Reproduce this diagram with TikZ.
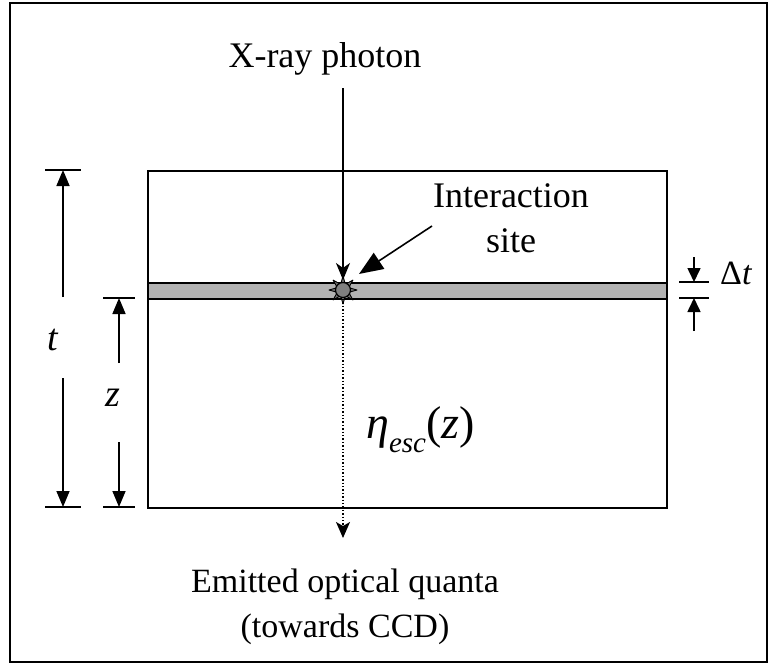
\documentclass[tikz,border=0pt]{standalone}
\usepackage{fontspec}
\setmainfont{Liberation Serif}
\usetikzlibrary{arrows.meta,calc}
\begin{document}
\begin{tikzpicture}[x=1pt,y=-1pt,
  lbl/.style={inner sep=0pt, align=center, anchor=base},
  dimtip/.style={-{Triangle[length=16pt,width=13pt]}},
  tick/.style={line width=1.6pt},
  dimline/.style={line width=1.6pt},
]
\useasboundingbox (0,0) rectangle (769,664);
\draw[line width=2.2pt] (10,3) rectangle (767,662);
% main slab
\node[draw, line width=1.7pt, minimum width=519pt, minimum height=337pt, inner sep=0pt, anchor=north west] (slab) at (147,170) {};
\node[draw, line width=1.7pt, fill=black!30, minimum width=519pt, minimum height=16pt, inner sep=0pt, anchor=north west] (strip) at (147,282) {};
% interaction site star
\coordinate (site) at (343,290);
\filldraw[fill=black!55, draw=black, line width=0.9pt, line join=round] \foreach \a in {0,45,...,315} {
  ($(site)+(\a:14pt)$) -- ($(site)+(\a+20:6.5pt)$) -- ($(site)+(\a-20:6.5pt)$) -- cycle };
\node[circle, draw, line width=1.2pt, fill=black!50, minimum size=15pt, inner sep=0pt] (dot) at (site) {};
% texts
\node[lbl, font=\fontsize{36}{45}\selectfont] (xray) at (325,67) {X-ray photon};
\node[lbl, font=\fontsize{36}{45}\selectfont] (inter) at (511,252) {Interaction\\site};
\node[lbl, font=\fontsize{34}{45}\selectfont] (emit) at (345,637) {Emitted optical quanta\\(towards CCD)};
\node[font=\fontsize{46}{46}\selectfont, inner sep=0pt, anchor=west] (eta) at (366,430) {\itshape η\raisebox{-0.3em}{\fontsize{29}{29}\selectfont esc}\upshape(\itshape z\upshape)};
% connectors
\coordinate (xs) at (343,88);
\coordinate (xe) at (343,280);
\draw[line width=1.5pt, -{Stealth[length=17pt,width=14pt,inset=5pt]}] (xs) -- (xe);
\coordinate (is) at (432,226);
\coordinate (ie) at (359,274);
\draw[line width=1.6pt, -{Triangle[length=24pt,width=19pt]}] (is) -- (ie);
\coordinate (ds) at (343,299);
\coordinate (de) at (343,538);
\draw[line width=1.4pt, dotted, -{Stealth[length=16pt,width=14pt,inset=4pt]}] (ds) -- (de);
% t dimension
\draw[tick] (45,170) -- (81,170);
\draw[tick] (45,507) -- (81,507);
\node[font=\fontsize{38}{38}\selectfont\itshape, inner sep=0pt] (tl) at (53,340) {t};
\coordinate (t1) at (63,297); \coordinate (t2) at (63,170);
\coordinate (t3) at (63,378); \coordinate (t4) at (63,507);
\draw[dimline, dimtip] (t1) -- (t2);
\draw[dimline, dimtip] (t3) -- (t4);
% z dimension
\draw[tick] (103,298) -- (135,298);
\draw[tick] (103,507) -- (135,507);
\node[font=\fontsize{38}{38}\selectfont\itshape, inner sep=0pt] (zl) at (113,398) {z};
\coordinate (z1) at (119,363); \coordinate (z2) at (119,298);
\coordinate (z3) at (119,442); \coordinate (z4) at (119,507);
\draw[dimline, dimtip] (z1) -- (z2);
\draw[dimline, dimtip] (z3) -- (z4);
% Delta t dimension
\draw[tick] (679,282) -- (709,282);
\draw[tick] (679,298) -- (709,298);
\node[font=\fontsize{34}{34}\selectfont, inner sep=0pt, anchor=base west] (dtl) at (720,284) {Δ\itshape t};
\coordinate (d1) at (694,257); \coordinate (d2) at (694,282);
\coordinate (d3) at (694,331); \coordinate (d4) at (694,298);
\draw[dimline, -{Triangle[length=14pt,width=13pt]}] (d1) -- (d2);
\draw[dimline, -{Triangle[length=14pt,width=13pt]}] (d3) -- (d4);
\end{tikzpicture}
\end{document}
